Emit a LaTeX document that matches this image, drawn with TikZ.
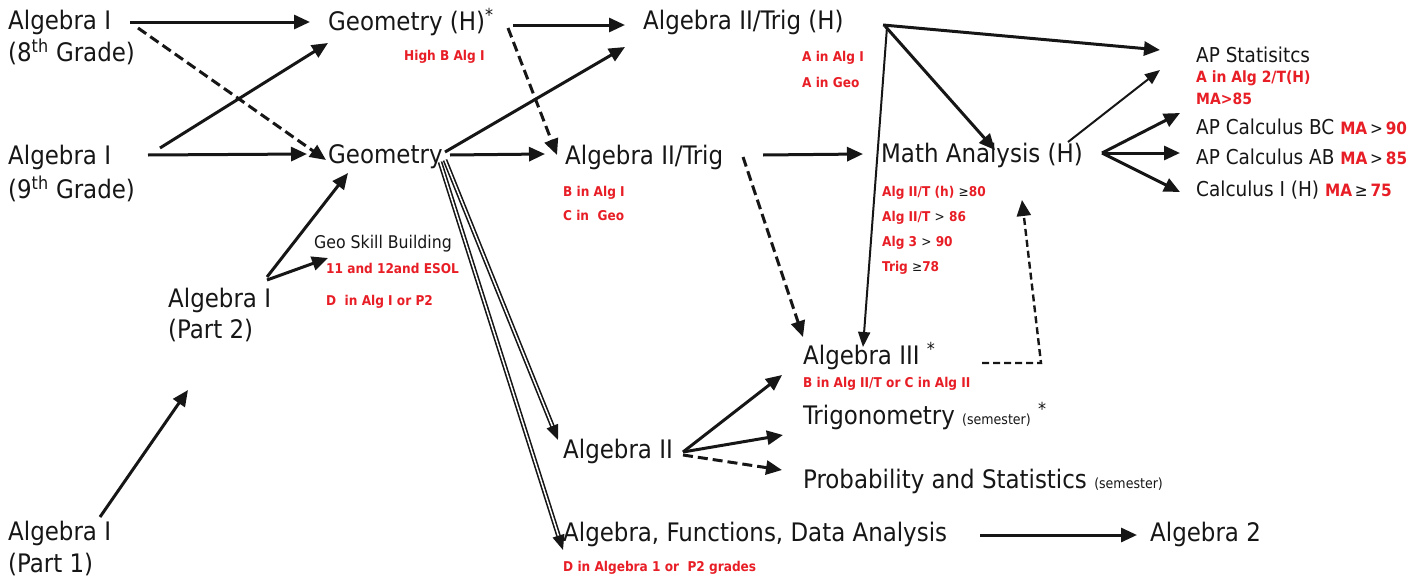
\documentclass[tikz,border=0pt]{standalone}
\usepackage{fontspec}
\setmainfont{DejaVu Sans Condensed}
\usetikzlibrary{arrows.meta,calc}
\definecolor{req}{RGB}{232,30,38}
\definecolor{ink}{RGB}{22,22,22}
\begin{document}
\begin{tikzpicture}[x=1pt,y=-1pt,
  every node/.style={inner sep=0pt,anchor=west,text=ink},
  big/.style={font=\fontsize{25.5}{30}\selectfont},
  mid/.style={font=\fontsize{20.5}{24}\selectfont},
  reqtxt/.style={text=req,font=\bfseries\fontsize{13.5}{16}\selectfont},
  reqbig/.style={text=req,font=\bfseries\fontsize{15.5}{18}\selectfont},
  arr/.style={draw=ink,line width=3pt,-{Triangle[length=16pt,width=14pt]}},
  dsh/.style={arr,dash pattern=on 10pt off 5pt},
  thinarr/.style={draw=ink,line width=2pt,-{Triangle[length=15pt,width=12pt]}},
  dbl/.style={draw=ink,line width=1.6pt,double=white,double distance=1.5pt,-{Triangle[length=15pt,width=12pt]}}
]
\useasboundingbox (0,0) rectangle (1422,581);
\newcommand{\sym}[1]{{\color{ink}\mdseries #1}}
\newcommand{\ma}[1]{{\color{req}\bfseries\fontsize{17}{20}\selectfont #1}}
% left column
\node[big] (A8) at (8,22) {Algebra I};
\node[big] (A8b) at (8,52) {(8\textsuperscript{th} Grade)};
\node[big] (A9) at (8,157) {Algebra I};
\node[big] (A9b) at (8,189) {(9\textsuperscript{th} Grade)};
\node[big] (AP2) at (168,300) {Algebra I};
\node[big] (AP2b) at (168,331) {(Part 2)};
\node[big] (AP1) at (8,533) {Algebra I};
\node[big] (AP1b) at (8,564) {(Part 1)};
% geometry
\node[big] (GeoH) at (328,22) {Geometry (H)\textsuperscript{*}};
\node[reqtxt] (GeoHr) at (404,57) {High B Alg I};
\node[big] (Geo) at (328,157) {Geometry};
\node[mid,font=\fontsize{17.5}{21}\selectfont] (GSB) at (314,244) {Geo Skill Building};
\node[reqtxt] (GSBr1) at (326,268) {11 and 12and ESOL};
\node[reqtxt] (GSBr2) at (326,302) {D\ \ in Alg I or P2};
% algebra II
\node[big] (A2TH) at (643,22) {Algebra II/Trig (H)};
\node[reqtxt] (A2THr1) at (802,58) {A in Alg I};
\node[reqtxt] (A2THr2) at (802,82) {A in Geo};
\node[big] (A2T) at (565,157) {Algebra II/Trig};
\node[reqtxt] (A2Tr1) at (563,193) {B in Alg I};
\node[reqtxt] (A2Tr2) at (563,215) {C in\ \ Geo};
\node[big] (A2) at (563,451) {Algebra II};
\node[big] (AFDA) at (563,534) {Algebra, Functions, Data Analysis};
\node[reqtxt] (AFDAr) at (563,568) {D in Algebra 1 or\ \ P2 grades};
\node[big] (Alg2) at (1150,534) {Algebra 2};
% math analysis
\node[big] (MAH) at (881,155) {Math Analysis (H)};
\node[reqtxt] (MAHr1) at (882,193) {Alg II/T (h) \sym{≥}80};
\node[reqtxt] (MAHr2) at (882,218) {Alg II/T \sym{>} 86};
\node[reqtxt] (MAHr3) at (882,243) {Alg 3 \sym{>} 90};
\node[reqtxt] (MAHr4) at (882,268) {Trig \sym{≥}78};
% AP
\node[mid] (APS) at (1196,55) {AP Statisitcs};
\node[reqbig] (APSr1) at (1196,78) {A in Alg 2/T(H)};
\node[reqbig] (APSr2) at (1196,99) {MA>85};
\node[mid] (APBC) at (1196,127) {AP Calculus BC \ma{MA\,\sym{>}\,90}};
\node[mid] (APAB) at (1196,157) {AP Calculus AB \ma{MA\,\sym{>}\,85}};
\node[mid] (CalcI) at (1196,190) {Calculus I (H) \ma{MA\,\sym{≥}\,75}};
% algebra III etc
\node[big] (A3) at (803,356) {Algebra III \textsuperscript{*}};
\node[reqtxt] (A3r) at (803,384) {B in Alg II/T or C in Alg II};
\node[big] (Trig) at (803,416) {Trigonometry {\fontsize{14}{16}\selectfont (semester)} \textsuperscript{*}};
\node[big] (PS) at (803,481) {Probability and Statistics {\fontsize{14}{16}\selectfont (semester)}};
\coordinate (corner) at (1041,363);
% arrows
\draw[arr] ($(A8.west)+(122,0)$) -- ($(GeoH.west)+(-18,0)$);
\draw[dsh] ($(A8.west)+(130,6)$) -- ($(Geo.west)+(-2,3)$);
\draw[arr] ($(A9.west)+(152,-9)$) -- ($(GeoH.west)+(0,21)$);
\draw[arr] ($(A9.west)+(140,-2)$) -- ($(Geo.west)+(-21,-3)$);
\draw[arr] ($(AP2.west)+(99,-23)$) -- ($(Geo.west)+(20,16)$);
\draw[arr] ($(AP2.west)+(99,-20)$) -- ($(GSB.west)+(14,14)$);
\draw[arr] ($(AP1.west)+(92,-16)$) -- ($(AP2.west)+(20,90)$);
\draw[arr] ($(GeoH.west)+(185,3)$) -- ($(A2TH.west)+(-18,3)$);
\draw[dsh] ($(GeoH.west)+(180,6)$) -- ($(A2T.west)+(-8,-2)$);
\draw[arr] ($(Geo.west)+(117,-5)$) -- ($(A2TH.west)+(-18,25)$);
\draw[arr] ($(Geo.west)+(122,-2)$) -- ($(A2T.west)+(-20,-3)$);
\draw[dbl] ($(Geo.west)+(117,3)$) -- ($(A2.west)+(-5,-11)$);
\draw[dbl] ($(Geo.west)+(112,5)$) -- ($(AFDA.west)+(0,16)$);
\draw[dsh] ($(A2T.west)+(178,0)$) -- ($(A3.west)+(0,-19)$);
\draw[arr] ($(A2T.west)+(198,-2)$) -- ($(MAH.west)+(-18,-1)$);
\draw[arr] ($(A2TH.west)+(240,3)$) -- ($(APS.west)+(-36,-5)$);
\draw[arr] ($(A2TH.west)+(242,4)$) -- ($(MAH.west)+(114,-5)$);
\draw[thinarr] ($(A2TH.west)+(244,5)$) -- ($(A3.west)+(60,-9)$);
\draw[thinarr] ($(MAH.west)+(187,-13)$) -- ($(APS.west)+(-36,15)$);
\draw[arr] ($(MAH.west)+(221,-2)$) -- ($(APBC.west)+(-16,-14)$);
\draw[arr] ($(MAH.west)+(221,-2)$) -- ($(APAB.west)+(-16,-4)$);
\draw[arr] ($(MAH.west)+(221,-2)$) -- ($(CalcI.west)+(-16,2)$);
\draw[dsh,dash pattern=on 7pt off 4pt,line width=2.4pt] ($(A3.west)+(179,7)$) -- (corner) -- ($(MAH.west)+(141,45)$);
\draw[arr] ($(A2.west)+(120,1)$) -- ($(A3.west)+(-21,19)$);
\draw[arr] ($(A2.west)+(120,1)$) -- ($(Trig.west)+(-20,19)$);
\draw[dsh] ($(A2.west)+(120,4)$) -- ($(PS.west)+(-21,-11)$);
\draw[arr] ($(AFDA.west)+(417,1)$) -- ($(Alg2.west)+(-13,1)$);
\end{tikzpicture}
\end{document}
